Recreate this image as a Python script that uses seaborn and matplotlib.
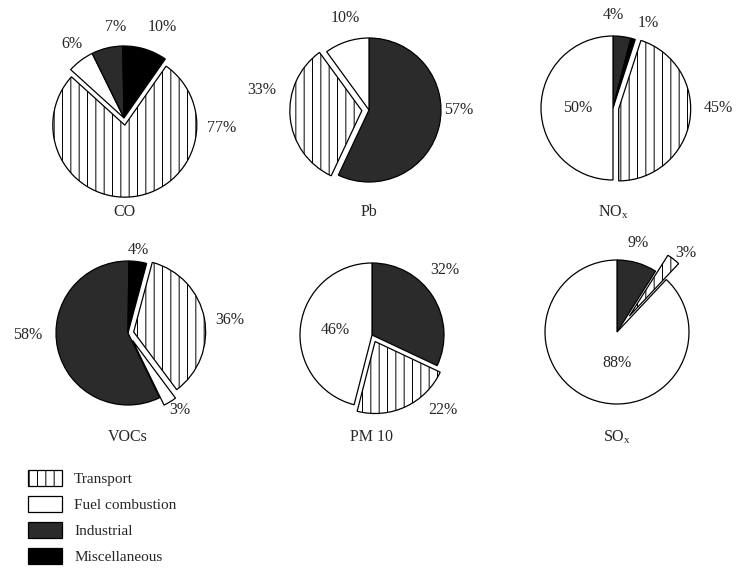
import matplotlib
matplotlib.use("Agg")
import matplotlib.pyplot as plt
from matplotlib.patches import Patch
import seaborn as sns

sns.set_theme(style="white")
plt.rcParams["font.family"] = ["Liberation Serif", "DejaVu Serif"]
plt.rcParams["hatch.linewidth"] = 0.7
plt.rcParams["mathtext.fontset"] = "stix"

# data (percent shares per pollutant, clockwise order as drawn)
sources = ["Transport", "Fuel combustion", "Industrial", "Miscellaneous"]
pollutants = ["CO", "Pb", r"NO$_\mathregular{x}$", "VOCs", "PM 10", r"SO$_\mathregular{x}$"]

co_src = ["Transport", "Fuel combustion", "Industrial", "Miscellaneous"]
co_val = [77, 6, 7, 10]
pb_src = ["Industrial", "Transport", "Fuel combustion"]
pb_val = [57, 33, 10]
nox_src = ["Industrial", "Miscellaneous", "Transport", "Fuel combustion"]
nox_val = [4, 1, 45, 50]
voc_src = ["Transport", "Fuel combustion", "Industrial", "Miscellaneous"]
voc_val = [36, 3, 58, 4]
pm_src = ["Industrial", "Transport", "Fuel combustion"]
pm_val = [32, 22, 46]
sox_src = ["Industrial", "Transport", "Fuel combustion"]
sox_val = [9, 3, 88]

# styles
face = {"Transport": "white", "Fuel combustion": "white",
        "Industrial": "#2b2b2b", "Miscellaneous": "black"}
hatch = {"Transport": "||", "Fuel combustion": None,
         "Industrial": None, "Miscellaneous": None}

# layout: pixel centre, start angle, exploded slices, label spots (pie units)
R = 72
L = 1.8
panels = [
    (co_src, co_val, (124, 118), 55, {"Transport": 0.1},
     [(1.36, -0.14), (-0.72, 1.03), (-0.11, 1.26), (0.53, 1.26)]),
    (pb_src, pb_val, (369, 110), 90, {"Transport": 0.1},
     [(1.24, 0.0), (-1.49, 0.28), (-0.33, 1.28)]),
    (nox_src, nox_val, (613, 108), 90, {"Transport": 0.08},
     [(0.0, 1.29), (0.49, 1.18), (1.46, 0.0), (-0.49, 0.0)]),
    (voc_src, voc_val, (128, 333), 75, {"Transport": 0.08, "Fuel combustion": 0.12},
     [(1.42, 0.18), (0.72, -1.07), (-1.39, -0.03), (0.14, 1.15)]),
    (pm_src, pm_val, (372, 335), 90, {"Transport": 0.1},
     [(1.01, 0.90), (0.99, -1.04), (-0.51, 0.07)]),
    (sox_src, sox_val, (617, 332), 90, {"Transport": 0.28},
     [(0.29, 1.24), (0.96, 1.10), (0.0, -0.43)]),
]
title_y = [212, 212, 212, 437, 437, 437]

W, H = 740, 569
fig = plt.figure(figsize=(W / 100, H / 100), dpi=100)

for i, (src, val, (cx, cy), start, expl, lab) in enumerate(panels):
    half = L * R
    ax = fig.add_axes([(cx - half) / W, (H - cy - half) / H, 2 * half / W, 2 * half / H])
    wedges, _ = ax.pie(val, startangle=start, counterclock=False,
                       explode=[expl.get(s, 0) for s in src],
                       colors=[face[s] for s in src],
                       wedgeprops=dict(edgecolor="black", linewidth=0.9))
    for w, s in zip(wedges, src):
        if hatch[s]:
            w.set_hatch(hatch[s])
    for v, (lx, ly) in zip(val, lab):
        ax.text(lx, ly, f"{v}%", ha="center", va="center", fontsize=11.5)
    ax.set_xlim(-L, L)
    ax.set_ylim(-L, L)
    ax.set_aspect("equal")
    ax.axis("off")
    fig.text(cx / W, 1 - title_y[i] / H, pollutants[i], ha="center", va="center", fontsize=11.5)

handles = [Patch(facecolor=face[s], edgecolor="black", hatch=hatch[s], linewidth=0.9)
           for s in sources]
fig.legend(handles, sources, loc="upper left", bbox_to_anchor=(0.03, 0.185),
           frameon=False, fontsize=11, handlelength=2.2, handleheight=1.2,
           labelspacing=0.66, handletextpad=0.8, borderaxespad=0)

fig.savefig("out.png", dpi=100)
